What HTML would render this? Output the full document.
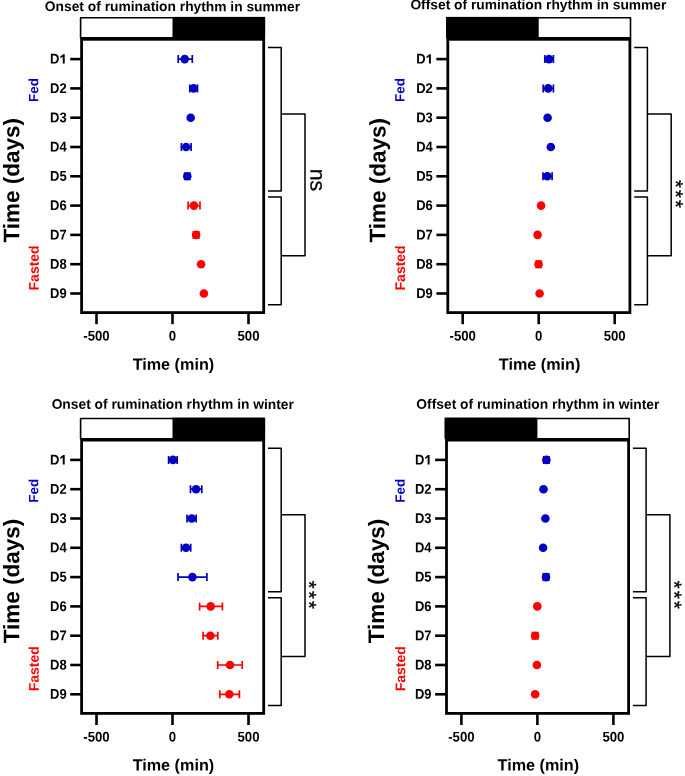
<!DOCTYPE html>
<html><head><meta charset="utf-8"><title>Rumination rhythm</title>
<style>
html,body{margin:0;padding:0;background:#fff;}
body{width:685px;height:776px;overflow:hidden;}
svg{display:block;font-family:"Liberation Sans", sans-serif;will-change:transform;}
svg text{font-family:"Liberation Sans", sans-serif;}
</style></head><body>
<svg width="685" height="776" viewBox="0 0 685 776">
<rect width="685" height="776" fill="#fff"/>
<g>
<text transform="translate(172.5,11.1) rotate(0.05)" text-anchor="middle" font-weight="bold" font-size="13.8">Onset of rumination rhythm in summer</text>
<rect x="172.5" y="16.9" width="92.6" height="21" fill="#000"/>
<rect x="80.6" y="17.7" width="183.7" height="20.2" fill="none" stroke="#000" stroke-width="1.6" stroke-linejoin="round"/>
<rect x="81.6" y="39.3" width="182.1" height="273.3" fill="none" stroke="#000" stroke-width="2.8" stroke-linejoin="miter"/>
<line x1="70.2" y1="59.1" x2="81.6" y2="59.1" stroke="#000" stroke-width="2.6"/>
<text transform="translate(59.39,63.6) rotate(0.05) scale(0.92,1)" text-anchor="end" font-weight="bold" font-size="14.1">D</text>
<path d="M64.7 63.6 L64.7 54.3 L63.1 54.3 L60.3 56.5 L60.3 58.2 L62.75 56.8 L62.75 63.6Z" fill="#000"/>
<line x1="70.2" y1="88.4" x2="81.6" y2="88.4" stroke="#000" stroke-width="2.6"/>
<text transform="translate(66.6,92.9) rotate(0.05) scale(0.92,1)" text-anchor="end" font-weight="bold" font-size="14.1">D2</text>
<line x1="70.2" y1="117.7" x2="81.6" y2="117.7" stroke="#000" stroke-width="2.6"/>
<text transform="translate(66.6,122.2) rotate(0.05) scale(0.92,1)" text-anchor="end" font-weight="bold" font-size="14.1">D3</text>
<line x1="70.2" y1="147" x2="81.6" y2="147" stroke="#000" stroke-width="2.6"/>
<text transform="translate(66.6,151.5) rotate(0.05) scale(0.92,1)" text-anchor="end" font-weight="bold" font-size="14.1">D4</text>
<line x1="70.2" y1="176.3" x2="81.6" y2="176.3" stroke="#000" stroke-width="2.6"/>
<text transform="translate(66.6,180.8) rotate(0.05) scale(0.92,1)" text-anchor="end" font-weight="bold" font-size="14.1">D5</text>
<line x1="70.2" y1="205.6" x2="81.6" y2="205.6" stroke="#000" stroke-width="2.6"/>
<text transform="translate(66.6,210.1) rotate(0.05) scale(0.92,1)" text-anchor="end" font-weight="bold" font-size="14.1">D6</text>
<line x1="70.2" y1="234.9" x2="81.6" y2="234.9" stroke="#000" stroke-width="2.6"/>
<text transform="translate(66.6,239.4) rotate(0.05) scale(0.92,1)" text-anchor="end" font-weight="bold" font-size="14.1">D7</text>
<line x1="70.2" y1="264.2" x2="81.6" y2="264.2" stroke="#000" stroke-width="2.6"/>
<text transform="translate(66.6,268.7) rotate(0.05) scale(0.92,1)" text-anchor="end" font-weight="bold" font-size="14.1">D8</text>
<line x1="70.2" y1="293.5" x2="81.6" y2="293.5" stroke="#000" stroke-width="2.6"/>
<text transform="translate(66.6,298) rotate(0.05) scale(0.92,1)" text-anchor="end" font-weight="bold" font-size="14.1">D9</text>
<line x1="96.5" y1="312.6" x2="96.5" y2="324.2" stroke="#000" stroke-width="2.6"/>
<text transform="translate(96.5,340.6) rotate(0.05) scale(0.95,1)" text-anchor="middle" font-weight="bold" font-size="13.9">-500</text>
<line x1="172.5" y1="312.6" x2="172.5" y2="324.2" stroke="#000" stroke-width="2.6"/>
<text transform="translate(172.5,340.6) rotate(0.05) scale(0.95,1)" text-anchor="middle" font-weight="bold" font-size="13.9">0</text>
<line x1="248.5" y1="312.6" x2="248.5" y2="324.2" stroke="#000" stroke-width="2.6"/>
<text transform="translate(248.5,340.6) rotate(0.05) scale(0.95,1)" text-anchor="middle" font-weight="bold" font-size="13.9">500</text>
<text transform="translate(173.4,369.8) rotate(0.05)" text-anchor="middle" font-weight="bold" font-size="16.2">Time (min)</text>
<text transform="translate(19.2,180.2) rotate(-89.95)" x="0" y="0" text-anchor="middle" font-weight="bold" font-size="22.5">Time (days)</text>
<text transform="translate(38.3,89.9) rotate(-89.95)" text-anchor="middle" font-weight="bold" font-size="13.5" fill="#0000C2">Fed</text>
<text transform="translate(38.8,267.9) rotate(-89.95)" text-anchor="middle" font-weight="bold" font-size="14" fill="#FF0000">Fasted</text>
<path d="M268 47.5H281.2V191H268" fill="none" stroke="#000" stroke-width="1.5" stroke-linejoin="round"/>
<path d="M268 197H281.2V304.7H268" fill="none" stroke="#000" stroke-width="1.5" stroke-linejoin="round"/>
<path d="M281.2 114H305V255.7H281.2" fill="none" stroke="#000" stroke-width="1.5" stroke-linejoin="round"/>
<text transform="translate(310.5,179.9) rotate(90.05)" text-anchor="middle" font-size="21.3" stroke="#000" stroke-width="0.25">ns</text>
<path d="M178.2 59.1H192.3M178.2 55.1V63.1M192.3 55.1V63.1" stroke="#0000C2" stroke-width="1.7" fill="none"/>
<circle cx="184.7" cy="59.1" r="4.3" fill="#0000C2"/>
<path d="M189.8 88.4H197.5M189.8 84.4V92.4M197.5 84.4V92.4" stroke="#0000C2" stroke-width="1.7" fill="none"/>
<circle cx="193.6" cy="88.4" r="4.3" fill="#0000C2"/>
<circle cx="190.7" cy="117.7" r="4.3" fill="#0000C2"/>
<path d="M181.4 147H191.1M181.4 143V151M191.1 143V151" stroke="#0000C2" stroke-width="1.7" fill="none"/>
<circle cx="186.1" cy="147" r="4.3" fill="#0000C2"/>
<path d="M184.7 176.3H189.9M184.7 172.3V180.3M189.9 172.3V180.3" stroke="#0000C2" stroke-width="1.7" fill="none"/>
<circle cx="187.3" cy="176.3" r="4.3" fill="#0000C2"/>
<path d="M188.1 205.6H200M188.1 201.6V209.6M200 201.6V209.6" stroke="#FF0000" stroke-width="1.7" fill="none"/>
<circle cx="193.9" cy="205.6" r="4.3" fill="#FF0000"/>
<path d="M193.4 234.9H198.8M193.4 230.9V238.9M198.8 230.9V238.9" stroke="#FF0000" stroke-width="1.7" fill="none"/>
<circle cx="196.1" cy="234.9" r="4.3" fill="#FF0000"/>
<circle cx="201.1" cy="264.2" r="4.3" fill="#FF0000"/>
<circle cx="203.9" cy="293.5" r="4.3" fill="#FF0000"/>
</g>
<g>
<text transform="translate(538.4,9.3) rotate(0.05)" text-anchor="middle" font-weight="bold" font-size="13.8">Offset of rumination rhythm in summer</text>
<rect x="446" y="16.9" width="92.7" height="21" fill="#000"/>
<rect x="446.8" y="17.7" width="183.7" height="20.2" fill="none" stroke="#000" stroke-width="1.6" stroke-linejoin="round"/>
<rect x="447.8" y="39.3" width="182.1" height="273.3" fill="none" stroke="#000" stroke-width="2.8" stroke-linejoin="miter"/>
<line x1="436.4" y1="59.1" x2="447.8" y2="59.1" stroke="#000" stroke-width="2.6"/>
<text transform="translate(425.59,63.6) rotate(0.05) scale(0.92,1)" text-anchor="end" font-weight="bold" font-size="14.1">D</text>
<path d="M430.9 63.6 L430.9 54.3 L429.3 54.3 L426.5 56.5 L426.5 58.2 L428.95 56.8 L428.95 63.6Z" fill="#000"/>
<line x1="436.4" y1="88.4" x2="447.8" y2="88.4" stroke="#000" stroke-width="2.6"/>
<text transform="translate(432.8,92.9) rotate(0.05) scale(0.92,1)" text-anchor="end" font-weight="bold" font-size="14.1">D2</text>
<line x1="436.4" y1="117.7" x2="447.8" y2="117.7" stroke="#000" stroke-width="2.6"/>
<text transform="translate(432.8,122.2) rotate(0.05) scale(0.92,1)" text-anchor="end" font-weight="bold" font-size="14.1">D3</text>
<line x1="436.4" y1="147" x2="447.8" y2="147" stroke="#000" stroke-width="2.6"/>
<text transform="translate(432.8,151.5) rotate(0.05) scale(0.92,1)" text-anchor="end" font-weight="bold" font-size="14.1">D4</text>
<line x1="436.4" y1="176.3" x2="447.8" y2="176.3" stroke="#000" stroke-width="2.6"/>
<text transform="translate(432.8,180.8) rotate(0.05) scale(0.92,1)" text-anchor="end" font-weight="bold" font-size="14.1">D5</text>
<line x1="436.4" y1="205.6" x2="447.8" y2="205.6" stroke="#000" stroke-width="2.6"/>
<text transform="translate(432.8,210.1) rotate(0.05) scale(0.92,1)" text-anchor="end" font-weight="bold" font-size="14.1">D6</text>
<line x1="436.4" y1="234.9" x2="447.8" y2="234.9" stroke="#000" stroke-width="2.6"/>
<text transform="translate(432.8,239.4) rotate(0.05) scale(0.92,1)" text-anchor="end" font-weight="bold" font-size="14.1">D7</text>
<line x1="436.4" y1="264.2" x2="447.8" y2="264.2" stroke="#000" stroke-width="2.6"/>
<text transform="translate(432.8,268.7) rotate(0.05) scale(0.92,1)" text-anchor="end" font-weight="bold" font-size="14.1">D8</text>
<line x1="436.4" y1="293.5" x2="447.8" y2="293.5" stroke="#000" stroke-width="2.6"/>
<text transform="translate(432.8,298) rotate(0.05) scale(0.92,1)" text-anchor="end" font-weight="bold" font-size="14.1">D9</text>
<line x1="462.7" y1="312.6" x2="462.7" y2="324.2" stroke="#000" stroke-width="2.6"/>
<text transform="translate(462.7,340.6) rotate(0.05) scale(0.95,1)" text-anchor="middle" font-weight="bold" font-size="13.9">-500</text>
<line x1="538.7" y1="312.6" x2="538.7" y2="324.2" stroke="#000" stroke-width="2.6"/>
<text transform="translate(538.7,340.6) rotate(0.05) scale(0.95,1)" text-anchor="middle" font-weight="bold" font-size="13.9">0</text>
<line x1="614.7" y1="312.6" x2="614.7" y2="324.2" stroke="#000" stroke-width="2.6"/>
<text transform="translate(614.7,340.6) rotate(0.05) scale(0.95,1)" text-anchor="middle" font-weight="bold" font-size="13.9">500</text>
<text transform="translate(539.6,369.8) rotate(0.05)" text-anchor="middle" font-weight="bold" font-size="16.2">Time (min)</text>
<text transform="translate(385.4,180.2) rotate(-89.95)" x="0" y="0" text-anchor="middle" font-weight="bold" font-size="22.5">Time (days)</text>
<text transform="translate(404.5,89.9) rotate(-89.95)" text-anchor="middle" font-weight="bold" font-size="13.5" fill="#0000C2">Fed</text>
<text transform="translate(405,267.9) rotate(-89.95)" text-anchor="middle" font-weight="bold" font-size="14" fill="#FF0000">Fasted</text>
<path d="M634.2 47.5H647.4V191H634.2" fill="none" stroke="#000" stroke-width="1.5" stroke-linejoin="round"/>
<path d="M634.2 197H647.4V304.7H634.2" fill="none" stroke="#000" stroke-width="1.5" stroke-linejoin="round"/>
<path d="M647.4 114H671.2V255.7H647.4" fill="none" stroke="#000" stroke-width="1.5" stroke-linejoin="round"/>
<text transform="translate(668.9,183.85) rotate(90.05)" text-anchor="middle" font-size="20" stroke="#000" stroke-width="0.35">*</text>
<text transform="translate(668.9,193.9) rotate(90.05)" text-anchor="middle" font-size="20" stroke="#000" stroke-width="0.35">*</text>
<text transform="translate(668.9,203.95) rotate(90.05)" text-anchor="middle" font-size="20" stroke="#000" stroke-width="0.35">*</text>
<path d="M544.8 59.1H553.4M544.8 55.1V63.1M553.4 55.1V63.1" stroke="#0000C2" stroke-width="1.7" fill="none"/>
<circle cx="549" cy="59.1" r="4.3" fill="#0000C2"/>
<path d="M543.2 88.4H553.4M543.2 84.4V92.4M553.4 84.4V92.4" stroke="#0000C2" stroke-width="1.7" fill="none"/>
<circle cx="548.2" cy="88.4" r="4.3" fill="#0000C2"/>
<circle cx="547.6" cy="117.7" r="4.3" fill="#0000C2"/>
<circle cx="550.8" cy="147" r="4.3" fill="#0000C2"/>
<path d="M543 176.3H552.1M543 172.3V180.3M552.1 172.3V180.3" stroke="#0000C2" stroke-width="1.7" fill="none"/>
<circle cx="547.3" cy="176.3" r="4.3" fill="#0000C2"/>
<circle cx="541.1" cy="205.6" r="4.3" fill="#FF0000"/>
<circle cx="537.6" cy="234.9" r="4.3" fill="#FF0000"/>
<path d="M536.2 264.2H541.2M536.2 260.2V268.2M541.2 260.2V268.2" stroke="#FF0000" stroke-width="1.7" fill="none"/>
<circle cx="538.6" cy="264.2" r="4.3" fill="#FF0000"/>
<circle cx="539.6" cy="293.5" r="4.3" fill="#FF0000"/>
</g>
<g>
<text transform="translate(172.75,408.8) rotate(0.05)" text-anchor="middle" font-weight="bold" font-size="13.8">Onset of rumination rhythm in winter</text>
<rect x="172.5" y="417.7" width="92.6" height="21" fill="#000"/>
<rect x="80.6" y="418.5" width="183.7" height="20.2" fill="none" stroke="#000" stroke-width="1.6" stroke-linejoin="round"/>
<rect x="81.6" y="440.1" width="182.1" height="273.3" fill="none" stroke="#000" stroke-width="2.8" stroke-linejoin="miter"/>
<line x1="70.2" y1="459.9" x2="81.6" y2="459.9" stroke="#000" stroke-width="2.6"/>
<text transform="translate(59.39,464.4) rotate(0.05) scale(0.92,1)" text-anchor="end" font-weight="bold" font-size="14.1">D</text>
<path d="M64.7 464.4 L64.7 455.1 L63.1 455.1 L60.3 457.3 L60.3 459 L62.75 457.6 L62.75 464.4Z" fill="#000"/>
<line x1="70.2" y1="489.2" x2="81.6" y2="489.2" stroke="#000" stroke-width="2.6"/>
<text transform="translate(66.6,493.7) rotate(0.05) scale(0.92,1)" text-anchor="end" font-weight="bold" font-size="14.1">D2</text>
<line x1="70.2" y1="518.5" x2="81.6" y2="518.5" stroke="#000" stroke-width="2.6"/>
<text transform="translate(66.6,523) rotate(0.05) scale(0.92,1)" text-anchor="end" font-weight="bold" font-size="14.1">D3</text>
<line x1="70.2" y1="547.8" x2="81.6" y2="547.8" stroke="#000" stroke-width="2.6"/>
<text transform="translate(66.6,552.3) rotate(0.05) scale(0.92,1)" text-anchor="end" font-weight="bold" font-size="14.1">D4</text>
<line x1="70.2" y1="577.1" x2="81.6" y2="577.1" stroke="#000" stroke-width="2.6"/>
<text transform="translate(66.6,581.6) rotate(0.05) scale(0.92,1)" text-anchor="end" font-weight="bold" font-size="14.1">D5</text>
<line x1="70.2" y1="606.4" x2="81.6" y2="606.4" stroke="#000" stroke-width="2.6"/>
<text transform="translate(66.6,610.9) rotate(0.05) scale(0.92,1)" text-anchor="end" font-weight="bold" font-size="14.1">D6</text>
<line x1="70.2" y1="635.7" x2="81.6" y2="635.7" stroke="#000" stroke-width="2.6"/>
<text transform="translate(66.6,640.2) rotate(0.05) scale(0.92,1)" text-anchor="end" font-weight="bold" font-size="14.1">D7</text>
<line x1="70.2" y1="665" x2="81.6" y2="665" stroke="#000" stroke-width="2.6"/>
<text transform="translate(66.6,669.5) rotate(0.05) scale(0.92,1)" text-anchor="end" font-weight="bold" font-size="14.1">D8</text>
<line x1="70.2" y1="694.3" x2="81.6" y2="694.3" stroke="#000" stroke-width="2.6"/>
<text transform="translate(66.6,698.8) rotate(0.05) scale(0.92,1)" text-anchor="end" font-weight="bold" font-size="14.1">D9</text>
<line x1="96.5" y1="713.4" x2="96.5" y2="725" stroke="#000" stroke-width="2.6"/>
<text transform="translate(96.5,741.4) rotate(0.05) scale(0.95,1)" text-anchor="middle" font-weight="bold" font-size="13.9">-500</text>
<line x1="172.5" y1="713.4" x2="172.5" y2="725" stroke="#000" stroke-width="2.6"/>
<text transform="translate(172.5,741.4) rotate(0.05) scale(0.95,1)" text-anchor="middle" font-weight="bold" font-size="13.9">0</text>
<line x1="248.5" y1="713.4" x2="248.5" y2="725" stroke="#000" stroke-width="2.6"/>
<text transform="translate(248.5,741.4) rotate(0.05) scale(0.95,1)" text-anchor="middle" font-weight="bold" font-size="13.9">500</text>
<text transform="translate(173.4,770.6) rotate(0.05)" text-anchor="middle" font-weight="bold" font-size="16.2">Time (min)</text>
<text transform="translate(19.2,581) rotate(-89.95)" x="0" y="0" text-anchor="middle" font-weight="bold" font-size="22.5">Time (days)</text>
<text transform="translate(38.3,490.7) rotate(-89.95)" text-anchor="middle" font-weight="bold" font-size="13.5" fill="#0000C2">Fed</text>
<text transform="translate(38.8,668.7) rotate(-89.95)" text-anchor="middle" font-weight="bold" font-size="14" fill="#FF0000">Fasted</text>
<path d="M268 448.3H281.2V591.8H268" fill="none" stroke="#000" stroke-width="1.5" stroke-linejoin="round"/>
<path d="M268 597.8H281.2V705.5H268" fill="none" stroke="#000" stroke-width="1.5" stroke-linejoin="round"/>
<path d="M281.2 514.8H305V656.5H281.2" fill="none" stroke="#000" stroke-width="1.5" stroke-linejoin="round"/>
<text transform="translate(302.3,584.75) rotate(90.05)" text-anchor="middle" font-size="20" stroke="#000" stroke-width="0.35">*</text>
<text transform="translate(302.3,594.8) rotate(90.05)" text-anchor="middle" font-size="20" stroke="#000" stroke-width="0.35">*</text>
<text transform="translate(302.3,604.85) rotate(90.05)" text-anchor="middle" font-size="20" stroke="#000" stroke-width="0.35">*</text>
<path d="M168.6 459.9H177.2M168.6 455.9V463.9M177.2 455.9V463.9" stroke="#0000C2" stroke-width="1.7" fill="none"/>
<circle cx="173" cy="459.9" r="4.3" fill="#0000C2"/>
<path d="M190.5 489.2H201.8M190.5 485.2V493.2M201.8 485.2V493.2" stroke="#0000C2" stroke-width="1.7" fill="none"/>
<circle cx="196.1" cy="489.2" r="4.3" fill="#0000C2"/>
<path d="M187 518.5H196.1M187 514.5V522.5M196.1 514.5V522.5" stroke="#0000C2" stroke-width="1.7" fill="none"/>
<circle cx="191.7" cy="518.5" r="4.3" fill="#0000C2"/>
<path d="M181.4 547.8H190.7M181.4 543.8V551.8M190.7 543.8V551.8" stroke="#0000C2" stroke-width="1.7" fill="none"/>
<circle cx="186" cy="547.8" r="4.3" fill="#0000C2"/>
<path d="M178 577.1H206.9M178 573.1V581.1M206.9 573.1V581.1" stroke="#0000C2" stroke-width="1.7" fill="none"/>
<circle cx="192.4" cy="577.1" r="4.3" fill="#0000C2"/>
<path d="M199.6 606.4H222.4M199.6 602.4V610.4M222.4 602.4V610.4" stroke="#FF0000" stroke-width="1.7" fill="none"/>
<circle cx="210.7" cy="606.4" r="4.3" fill="#FF0000"/>
<path d="M203.1 635.7H217.8M203.1 631.7V639.7M217.8 631.7V639.7" stroke="#FF0000" stroke-width="1.7" fill="none"/>
<circle cx="210.4" cy="635.7" r="4.3" fill="#FF0000"/>
<path d="M217.7 665H242.2M217.7 661V669M242.2 661V669" stroke="#FF0000" stroke-width="1.7" fill="none"/>
<circle cx="230" cy="665" r="4.3" fill="#FF0000"/>
<path d="M219.8 694.3H239.4M219.8 690.3V698.3M239.4 690.3V698.3" stroke="#FF0000" stroke-width="1.7" fill="none"/>
<circle cx="229.3" cy="694.3" r="4.3" fill="#FF0000"/>
</g>
<g>
<text transform="translate(537.85,408.8) rotate(0.05)" text-anchor="middle" font-weight="bold" font-size="13.8">Offset of rumination rhythm in winter</text>
<rect x="444.7" y="417.7" width="92.7" height="21" fill="#000"/>
<rect x="445.5" y="418.5" width="183.7" height="20.2" fill="none" stroke="#000" stroke-width="1.6" stroke-linejoin="round"/>
<rect x="446.5" y="440.1" width="182.1" height="273.3" fill="none" stroke="#000" stroke-width="2.8" stroke-linejoin="miter"/>
<line x1="435.1" y1="459.9" x2="446.5" y2="459.9" stroke="#000" stroke-width="2.6"/>
<text transform="translate(424.29,464.4) rotate(0.05) scale(0.92,1)" text-anchor="end" font-weight="bold" font-size="14.1">D</text>
<path d="M429.6 464.4 L429.6 455.1 L428 455.1 L425.2 457.3 L425.2 459 L427.65 457.6 L427.65 464.4Z" fill="#000"/>
<line x1="435.1" y1="489.2" x2="446.5" y2="489.2" stroke="#000" stroke-width="2.6"/>
<text transform="translate(431.5,493.7) rotate(0.05) scale(0.92,1)" text-anchor="end" font-weight="bold" font-size="14.1">D2</text>
<line x1="435.1" y1="518.5" x2="446.5" y2="518.5" stroke="#000" stroke-width="2.6"/>
<text transform="translate(431.5,523) rotate(0.05) scale(0.92,1)" text-anchor="end" font-weight="bold" font-size="14.1">D3</text>
<line x1="435.1" y1="547.8" x2="446.5" y2="547.8" stroke="#000" stroke-width="2.6"/>
<text transform="translate(431.5,552.3) rotate(0.05) scale(0.92,1)" text-anchor="end" font-weight="bold" font-size="14.1">D4</text>
<line x1="435.1" y1="577.1" x2="446.5" y2="577.1" stroke="#000" stroke-width="2.6"/>
<text transform="translate(431.5,581.6) rotate(0.05) scale(0.92,1)" text-anchor="end" font-weight="bold" font-size="14.1">D5</text>
<line x1="435.1" y1="606.4" x2="446.5" y2="606.4" stroke="#000" stroke-width="2.6"/>
<text transform="translate(431.5,610.9) rotate(0.05) scale(0.92,1)" text-anchor="end" font-weight="bold" font-size="14.1">D6</text>
<line x1="435.1" y1="635.7" x2="446.5" y2="635.7" stroke="#000" stroke-width="2.6"/>
<text transform="translate(431.5,640.2) rotate(0.05) scale(0.92,1)" text-anchor="end" font-weight="bold" font-size="14.1">D7</text>
<line x1="435.1" y1="665" x2="446.5" y2="665" stroke="#000" stroke-width="2.6"/>
<text transform="translate(431.5,669.5) rotate(0.05) scale(0.92,1)" text-anchor="end" font-weight="bold" font-size="14.1">D8</text>
<line x1="435.1" y1="694.3" x2="446.5" y2="694.3" stroke="#000" stroke-width="2.6"/>
<text transform="translate(431.5,698.8) rotate(0.05) scale(0.92,1)" text-anchor="end" font-weight="bold" font-size="14.1">D9</text>
<line x1="461.4" y1="713.4" x2="461.4" y2="725" stroke="#000" stroke-width="2.6"/>
<text transform="translate(461.4,741.4) rotate(0.05) scale(0.95,1)" text-anchor="middle" font-weight="bold" font-size="13.9">-500</text>
<line x1="537.4" y1="713.4" x2="537.4" y2="725" stroke="#000" stroke-width="2.6"/>
<text transform="translate(537.4,741.4) rotate(0.05) scale(0.95,1)" text-anchor="middle" font-weight="bold" font-size="13.9">0</text>
<line x1="613.4" y1="713.4" x2="613.4" y2="725" stroke="#000" stroke-width="2.6"/>
<text transform="translate(613.4,741.4) rotate(0.05) scale(0.95,1)" text-anchor="middle" font-weight="bold" font-size="13.9">500</text>
<text transform="translate(538.3,770.6) rotate(0.05)" text-anchor="middle" font-weight="bold" font-size="16.2">Time (min)</text>
<text transform="translate(384.1,581) rotate(-89.95)" x="0" y="0" text-anchor="middle" font-weight="bold" font-size="22.5">Time (days)</text>
<text transform="translate(404.7,490.7) rotate(-89.95)" text-anchor="middle" font-weight="bold" font-size="13.5" fill="#0000C2">Fed</text>
<text transform="translate(405.2,668.7) rotate(-89.95)" text-anchor="middle" font-weight="bold" font-size="14" fill="#FF0000">Fasted</text>
<path d="M632.9 448.3H646.1V591.8H632.9" fill="none" stroke="#000" stroke-width="1.5" stroke-linejoin="round"/>
<path d="M632.9 597.8H646.1V705.5H632.9" fill="none" stroke="#000" stroke-width="1.5" stroke-linejoin="round"/>
<path d="M646.1 514.8H669.9V656.5H646.1" fill="none" stroke="#000" stroke-width="1.5" stroke-linejoin="round"/>
<text transform="translate(667.4,584.75) rotate(90.05)" text-anchor="middle" font-size="20" stroke="#000" stroke-width="0.35">*</text>
<text transform="translate(667.4,594.8) rotate(90.05)" text-anchor="middle" font-size="20" stroke="#000" stroke-width="0.35">*</text>
<text transform="translate(667.4,604.85) rotate(90.05)" text-anchor="middle" font-size="20" stroke="#000" stroke-width="0.35">*</text>
<path d="M543.7 459.9H549M543.7 455.9V463.9M549 455.9V463.9" stroke="#0000C2" stroke-width="1.7" fill="none"/>
<circle cx="546.4" cy="459.9" r="4.3" fill="#0000C2"/>
<circle cx="543.5" cy="489.2" r="4.3" fill="#0000C2"/>
<circle cx="545.4" cy="518.5" r="4.3" fill="#0000C2"/>
<circle cx="543.1" cy="547.8" r="4.3" fill="#0000C2"/>
<path d="M543.3 577.1H548.7M543.3 573.1V581.1M548.7 573.1V581.1" stroke="#0000C2" stroke-width="1.7" fill="none"/>
<circle cx="546" cy="577.1" r="4.3" fill="#0000C2"/>
<circle cx="537.3" cy="606.4" r="4.3" fill="#FF0000"/>
<path d="M532.4 635.7H537.8M532.4 631.7V639.7M537.8 631.7V639.7" stroke="#FF0000" stroke-width="1.7" fill="none"/>
<circle cx="535.1" cy="635.7" r="4.3" fill="#FF0000"/>
<circle cx="536.9" cy="665" r="4.3" fill="#FF0000"/>
<circle cx="535.1" cy="694.3" r="4.3" fill="#FF0000"/>
</g>
</svg>
</body></html>
